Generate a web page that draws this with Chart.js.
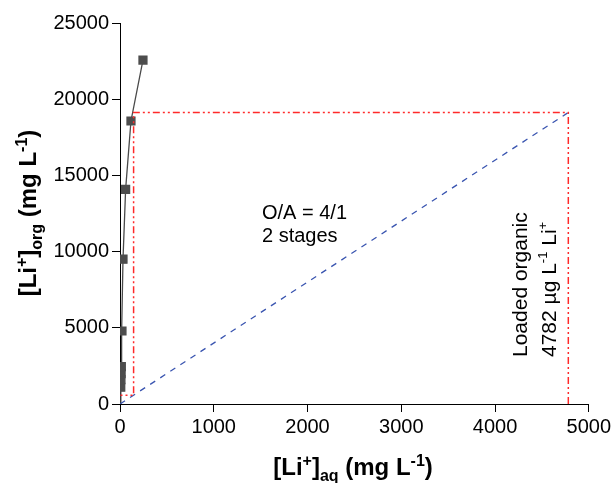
<!DOCTYPE html>
<html>
<head>
<meta charset="utf-8">
<script src="https://cdn.jsdelivr.net/npm/chart.js@4.4.1/dist/chart.umd.min.js"></script>
<style>
  html, body { margin: 0; padding: 0; background: #fff; }
  #wrap { width: 614px; height: 483px; }
</style>
</head>
<body>
<div id="wrap"><canvas id="myChart" width="614" height="483"></canvas></div>
<script>
// equilibrium isotherm, Li+ in aqueous vs organic phase (mg/L)
const aqLi = [0, 8, 10, 12, 14, 21, 32, 60, 117, 245];
const orgLi = [0, 1100, 1600, 2000, 2450, 4790, 9500, 14090, 18570, 22570];

// operating line, O/A = 4/1
const opAq = [0, 4782];
const opOrg = [0, 19128];

// McCabe-Thiele steps (2 stages), starting from the loaded organic
const stepAq = [4782, 4782, 145, 145, 5];
const stepOrg = [0, 19128, 19128, 580, 580];

const xTicks = [0, 1000, 2000, 3000, 4000, 5000];
const yTicks = [0, 5000, 10000, 15000, 20000, 25000];

const FONT = '"Liberation Sans", Arial, sans-serif';

var toPoints = function(xs, ys){
	return xs.map((x, i) => ({x: x, y: ys[i]}));
};

// axis title with super/subscript pieces, centred on cx along the baseline
var drawRich = function(ctx, parts, cx, base, rotate){
	var big = 'bold 24px ' + FONT;
	var small = 'bold 16px ' + FONT;
	var total = 0;
	parts.forEach(p => {
		ctx.font = p.s ? small : big;
		total += ctx.measureText(p.t).width;
	});
	ctx.save();
	if(rotate){
		ctx.translate(base, cx);
		ctx.rotate(-Math.PI/2);
	} else {
		ctx.translate(cx, base);
	}
	ctx.fillStyle = '#000';
	ctx.textBaseline = 'alphabetic';
	ctx.textAlign = 'left';
	var x = -total/2;
	parts.forEach(p => {
		ctx.font = p.s ? small : big;
		var dy = 0;
		if(p.s === 'sup'){ dy = -9; }
		if(p.s === 'sub'){ dy = 6; }
		ctx.fillText(p.t, x, dy);
		x += ctx.measureText(p.t).width;
	});
	ctx.restore();
};

var labelsPlugin = {
	id: 'labelsPlugin',
	afterDraw: function(chart){
		var ctx = chart.ctx;
		drawRich(ctx, [{t:'[Li'}, {t:'+', s:'sup'}, {t:']'}, {t:'aq', s:'sub'},
			{t:' (mg L'}, {t:'-1', s:'sup'}, {t:')'}], 353, 475, false);
		drawRich(ctx, [{t:'[Li'}, {t:'+', s:'sup'}, {t:']'}, {t:'org', s:'sub'},
			{t:' (mg L'}, {t:'-1', s:'sup'}, {t:')'}], 213, 36, true);

		ctx.save();
		ctx.fillStyle = '#000';
		ctx.font = '20px ' + FONT;
		ctx.textBaseline = 'alphabetic';
		ctx.fillText('O/A = 4/1', 262, 219);
		ctx.fillText('2 stages', 262, 242);

		// vertical note beside the loaded organic line
		ctx.translate(0, 357);
		ctx.rotate(-Math.PI/2);
		ctx.font = '21px ' + FONT;
		ctx.fillText('Loaded organic', 0, 527);
		var x = 0;
		['4782 µg L', '-1', ' Li', '+'].forEach((t, i) => {
			var sup = (i % 2 === 1);
			ctx.font = (sup ? '13px ' : '21px ') + FONT;
			ctx.fillText(t, x, sup ? 547 : 556);
			x += ctx.measureText(t).width;
		});
		ctx.restore();
	}
};

var axisStyle = function(min, max, tickVals){
	return {
		type: 'linear',
		min: min,
		max: max,
		afterBuildTicks: function(scale){
			scale.ticks = tickVals.map(v => ({value: v}));
		},
		grid: {drawOnChartArea: false, drawTicks: true, tickLength: 8, color: '#000', lineWidth: 1},
		border: {color: '#000', width: 1},
		ticks: {
			color: '#000',
			padding: 3,
			font: {family: FONT, size: 20},
			maxRotation: 0,
			callback: v => String(v)
		}
	};
};

var xAxis = axisStyle(0, 5000, xTicks);
xAxis.afterFit = function(scale){ scale.height = 79; };
var yAxis = axisStyle(0, 25000, yTicks);
yAxis.afterFit = function(scale){ scale.width = 120; };

var ctx = document.getElementById('myChart');
var myChart = new Chart(ctx, {
	type: 'scatter',
	data: {
		datasets: [{
			label: 'steps',
			data: toPoints(stepAq, stepOrg),
			showLine: true,
			borderColor: '#ff2a2a',
			borderWidth: 1.5,
			borderDash: [7, 3, 2, 3, 2, 3],
			pointRadius: 0,
			fill: false
		}, {
			label: 'operating line',
			data: toPoints(opAq, opOrg),
			showLine: true,
			borderColor: '#3a55b0',
			borderWidth: 1.3,
			borderDash: [6, 6],
			pointRadius: 0,
			fill: false
		}, {
			label: 'equilibrium',
			data: toPoints(aqLi, orgLi),
			showLine: true,
			borderColor: '#4a4a4a',
			borderWidth: 1.3,
			backgroundColor: '#4d4d4d',
			pointBackgroundColor: '#4d4d4d',
			pointBorderColor: '#4d4d4d',
			pointStyle: 'rect',
			pointRadius: aqLi.map((v, i) => i === 0 ? 0 : 5.6),
			fill: false
		}]
	},
	options: {
		responsive: false,
		animation: false,
		layout: {padding: {left: 0, right: 25, top: 23, bottom: 0}},
		plugins: {legend: {display: false}, tooltip: {enabled: false}},
		scales: {x: xAxis, y: yAxis}
	},
	plugins: [labelsPlugin]
});
</script>
</body>
</html>
